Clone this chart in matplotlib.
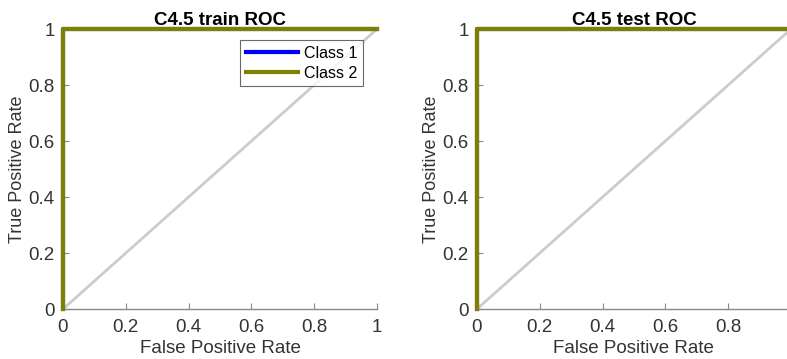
import matplotlib
matplotlib.use("Agg")
import matplotlib.pyplot as plt

plt.rcParams["font.family"] = ["Liberation Sans", "DejaVu Sans"]

# ROC points (false positive rate, true positive rate)
train_fpr_1, train_tpr_1 = [0, 0, 1], [0, 1, 1]
train_fpr_2, train_tpr_2 = [0, 0, 1], [0, 1, 1]
test_fpr_1, test_tpr_1 = [0, 0, 1], [0, 1, 1]
test_fpr_2, test_tpr_2 = [0, 0, 1], [0, 1, 1]
diag = [0, 1]
ticks = [0, 0.2, 0.4, 0.6, 0.8, 1]
tick_labels = ["0", "0.2", "0.4", "0.6", "0.8", "1"]
# the right panel is cut at the figure edge, so its last x label is not shown
test_x_labels = ["0", "0.2", "0.4", "0.6", "0.8", ""]

fig = plt.figure(figsize=(7.87, 3.59), dpi=100)
ax1 = fig.add_axes([0.080, 0.139, 0.399, 0.780])
ax2 = fig.add_axes([0.606, 0.139, 0.399, 0.780])

panels = [
    (ax1, "C4.5 train ROC", train_fpr_1, train_tpr_1, train_fpr_2, train_tpr_2, tick_labels),
    (ax2, "C4.5 test ROC", test_fpr_1, test_tpr_1, test_fpr_2, test_tpr_2, test_x_labels),
]

for ax, title, f1, t1, f2, t2, xl in panels:
    ax.plot(diag, diag, color="#cccccc", lw=2, zorder=1)
    ax.plot(f1, t1, color="#0000ff", lw=3, label="Class 1", zorder=2, clip_on=False)
    ax.plot(f2, t2, color="#7f7f00", lw=3, label="Class 2", zorder=3, clip_on=False)
    ax.set_xlim(0, 1)
    ax.set_ylim(0, 1)
    ax.set_xticks(ticks)
    ax.set_xticklabels(xl)
    ax.set_yticks(ticks)
    ax.set_yticklabels(tick_labels)
    for s in ["top", "right"]:
        ax.spines[s].set_visible(False)
    for s in ["left", "bottom"]:
        ax.spines[s].set_color("#888888")
        ax.spines[s].set_linewidth(1)
    ax.tick_params(direction="in", length=4, color="#888888", labelsize=13.5,
                   labelcolor="#333333")
    ax.tick_params(axis="x", pad=7)
    ax.tick_params(axis="y", pad=6)
    ax.set_xlabel("False Positive Rate", fontsize=13.5, color="#333333", labelpad=3)
    ax.set_ylabel("True Positive Rate", fontsize=13, color="#333333")
    ax.yaxis.set_label_coords(-0.118, 0.5)
    ax.set_title(title, fontsize=13.5, fontweight="bold", pad=3)

leg = ax1.legend(loc="upper right", bbox_to_anchor=(0.955, 0.96), fontsize=11.5,
                 frameon=True, fancybox=False, edgecolor="#444444",
                 handlelength=3.3, borderpad=0.35, labelspacing=0.3,
                 handletextpad=0.35, borderaxespad=0)
leg.get_frame().set_linewidth(0.8)

fig.savefig("out.png", dpi=100)
